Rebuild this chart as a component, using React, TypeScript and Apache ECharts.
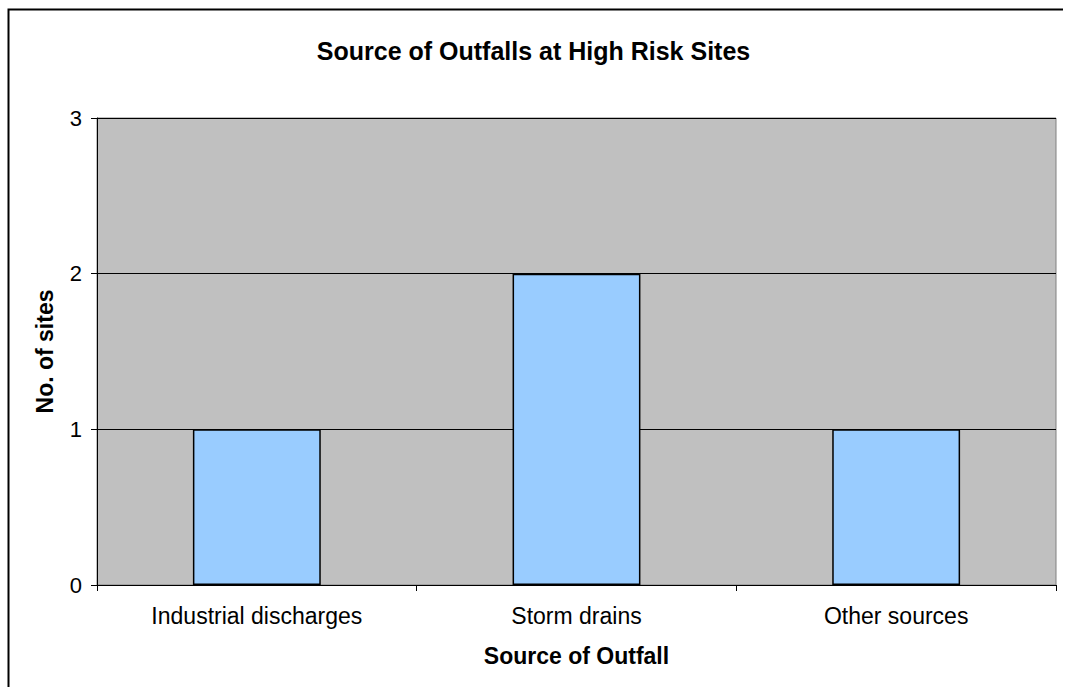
import React, { useEffect, useRef } from "react";
import * as echarts from "echarts";

const categories = ["Industrial discharges", "Storm drains", "Other sources"];
const siteCounts = [1, 2, 1];
const yTicks = { min: 0, max: 3, interval: 1 };

export default function App() {
  const ref = useRef<HTMLDivElement>(null);
  useEffect(() => {
    document.body.style.margin = "0";
    const chart = echarts.init(ref.current!, null, { renderer: "svg" });
    const font = "Arial, 'Liberation Sans', sans-serif";
    chart.setOption({
      animation: false,
      backgroundColor: "#ffffff",
      title: {
        text: "Source of Outfalls at High Risk Sites",
        left: "center",
        top: 33,
        textStyle: { fontFamily: font, fontSize: 25, fontWeight: "bold", color: "#000" },
      },
      graphic: [
        {
          type: "polyline",
          shape: { points: [[1063, 9.5], [8.5, 9.5], [8.5, 700]] },
          style: { stroke: "#000", lineWidth: 2, fill: null },
          silent: true,
        },
      ],
      grid: {
        left: 97,
        right: 11,
        top: 118,
        bottom: 102,
        show: true,
        backgroundColor: "#c0c0c0",
        borderColor: "#808080",
        borderWidth: 1,
      },
      xAxis: {
        type: "category",
        data: categories,
        name: "Source of Outfall",
        nameLocation: "middle",
        nameGap: 59,
        nameTextStyle: { fontFamily: font, fontSize: 23, fontWeight: "bold", color: "#000" },
        axisLine: { lineStyle: { color: "#000", width: 1 } },
        axisTick: { show: true, length: 6, lineStyle: { color: "#000" } },
        axisLabel: { fontFamily: font, fontSize: 23, color: "#000", margin: 19 },
        splitLine: { show: false },
      },
      yAxis: {
        type: "value",
        min: yTicks.min,
        max: yTicks.max,
        interval: yTicks.interval,
        name: "No. of sites",
        nameLocation: "middle",
        nameRotate: 90,
        nameGap: 41,
        nameTextStyle: { fontFamily: font, fontSize: 23, fontWeight: "bold", color: "#000" },
        axisLine: { show: true, lineStyle: { color: "#000", width: 1 } },
        axisTick: { show: true, length: 6, lineStyle: { color: "#000" } },
        axisLabel: { fontFamily: font, fontSize: 22, color: "#000", margin: 15 },
        splitLine: { show: true, lineStyle: { color: "#000", width: 1 } },
      },
      series: [
        {
          type: "bar",
          data: siteCounts,
          barWidth: "40%",
          itemStyle: { color: "#99ccff", borderColor: "#000", borderWidth: 1.5 },
        },
      ],
    });
    return () => chart.dispose();
  }, []);
  return <div ref={ref} style={{ width: 1067, height: 687 }} />;
}
